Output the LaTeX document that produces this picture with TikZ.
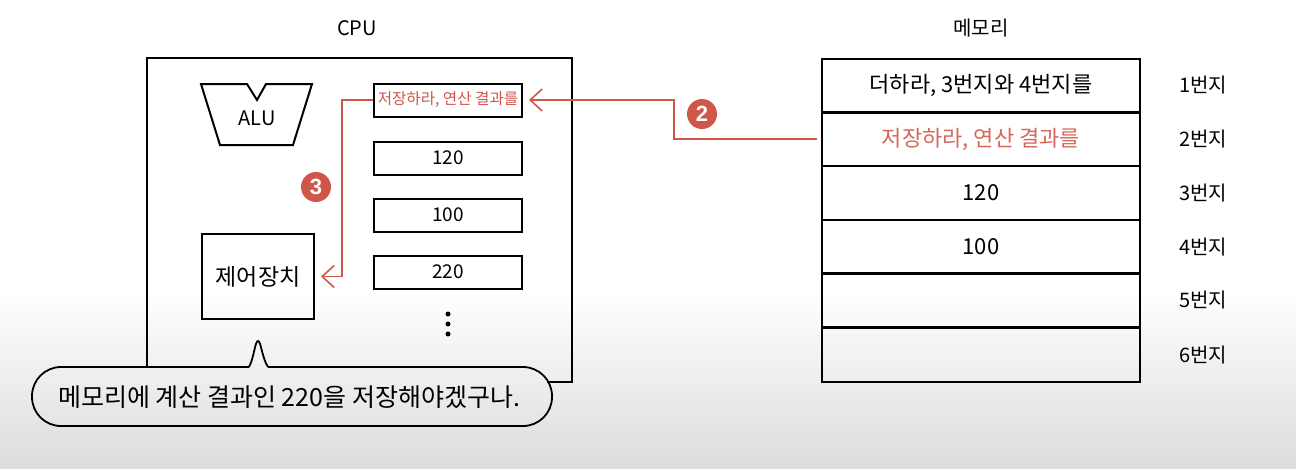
\documentclass[tikz,border=0pt]{standalone}
\usepackage{fontspec}
\usetikzlibrary{arrows.meta}
\newfontfamily\kr{Noto Sans CJK KR}
\newfontfamily\numfnt{Liberation Sans}
\definecolor{rd}{HTML}{D0564A}
\definecolor{rdtxt}{HTML}{D6675B}
\definecolor{bggray}{RGB}{220,220,220}
\tikzset{
  lbl/.style={font=\kr\fontsize{10}{12}\selectfont, inner sep=0pt},
  bigtxt/.style={font=\kr\fontsize{12.5}{14}\selectfont, inner sep=0pt},
  regbox/.style={draw, line width=1pt, minimum width=74pt, minimum height=16.5pt, inner sep=0pt, font=\kr\fontsize{9.5}{11}\selectfont},
  memcell/.style={draw, line width=1pt, minimum width=159pt, minimum height=27pt, inner sep=0pt, font=\kr\fontsize{11}{13}\selectfont},
  badge/.style={circle, fill=rd, minimum size=15pt, inner sep=0pt, text=white, font=\numfnt\bfseries\fontsize{11}{12}\selectfont},
  redline/.style={draw=rd, line width=0.8pt, -{Straight Barb[length=6pt,width=11pt,line width=0.8pt]}}
}
\begin{document}
\begin{tikzpicture}[x=0.5pt,y=-0.5pt]
\useasboundingbox (0,0) rectangle (1296,468);
\fill[white] (0,0) rectangle (1296,468);
\shade[top color=white, bottom color=bggray] (0,290) rectangle (1296,468);

% titles
\node[lbl] (cpulabel) at (357,28) {CPU};
\node[lbl] (memlabel) at (981,28) {메모리};

% CPU box (partly covered by the speech bubble)
\draw[line width=1.2pt] (147,367) -- (147,58) -- (572,58) -- (572,382) -- (547,382);

% ALU
\draw[line width=1pt] (201,84) -- (247,84) -- (257,100) -- (266,84) -- (312,84) -- (293,145) -- (220,145) -- cycle;
\node[lbl] (alu) at (257,118) {ALU};

% control unit
\node[draw, line width=1pt, minimum width=56pt, minimum height=42.5pt, inner sep=0pt, font=\kr\fontsize{11.5}{13}\selectfont] (cu) at (258,276.5) {제어장치};

% registers
\node[regbox, text=rd, font=\kr\fontsize{7.8}{9}\selectfont] (r1) at (448,100) {저장하라, 연산 결과를};
\node[regbox] (r2) at (448,158) {120};
\node[regbox] (r3) at (448,215) {100};
\node[regbox] (r4) at (448,272) {220};
\fill (448,314) circle (2.5);
\fill (448,324) circle (2.5);
\fill (448,334) circle (2.5);

% memory
\node[memcell] (m1) at (981,85.5) {더하라, 3번지와 4번지를};
\node[memcell, text=rdtxt] (m2) at (981,139) {저장하라, 연산 결과를};
\node[memcell] (m3) at (981,193) {120};
\node[memcell] (m4) at (981,246.5) {100};
\node[memcell] (m5) at (981,300) {};
\node[memcell] (m6) at (981,354.5) {};
\foreach \i/\y in {1/85.5,2/139,3/193,4/246.5,5/300,6/354.5}
  \node[lbl] (a\i) at (1203,\y) {\i{}번지};

% arrows
\coordinate (k2) at (674,120);
\coordinate (k3) at (342,190);
\draw[redline, shorten <=2pt, shorten >=3pt] (m2.west) -- (m2.west -| k2) -- (k2 |- r1.east) -- (r1.east);
\draw[redline, shorten >=3pt] (r1.west) -- (r1.west -| k3) -- (k3 |- cu.east) -- (cu.east);
\node[badge] (c2) at (702,114) {2};
\node[badge] (c3) at (316,187) {3};

% speech bubble
\draw[line width=0.9pt, rounded corners=14.5pt] (268,367) -- (552,367) -- (552,426) -- (32,426) -- (32,367) -- (249,367);
\draw[line width=0.9pt] (249,367) .. controls (254,358) and (255,341) .. (258,341) .. controls (261,341) and (262,358) .. (268,367);
\node[bigtxt] (bubble) at (289,397) {메모리에 계산 결과인 220을 저장해야겠구나.};
\end{tikzpicture}
\end{document}
